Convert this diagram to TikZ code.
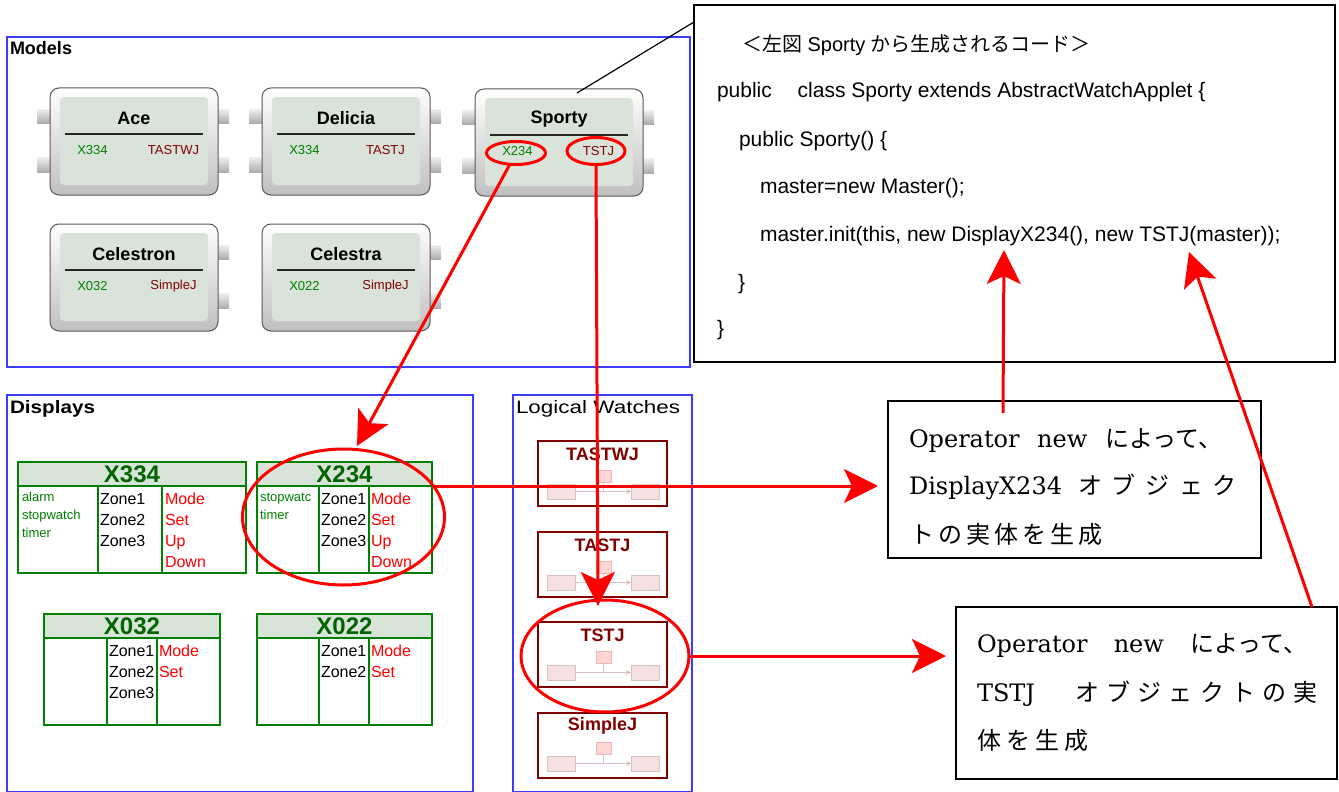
\documentclass[tikz,border=0pt]{standalone}
\usepackage{fontspec}
\usepackage{graphicx}
\setmainfont{Liberation Sans}
\newfontfamily\jp{Noto Sans CJK JP}
\newfontfamily\dserif{DejaVu Serif}
\usetikzlibrary{arrows.meta,shapes.geometric,calc}
\definecolor{mblue}{HTML}{3C3CFF}
\definecolor{dgreen}{HTML}{008000}
\definecolor{tgreen}{HTML}{006400}
\definecolor{dred}{HTML}{800000}
\definecolor{panel}{HTML}{D9E3D9}
\definecolor{hdr}{HTML}{D8E4D8}
\definecolor{pinkf}{HTML}{F5E1E1}
\definecolor{pinkd}{HTML}{DCC0C0}
\definecolor{sqf}{HTML}{FFD6D6}
\definecolor{sqd}{HTML}{F2B5B5}
\definecolor{mred}{HTML}{FF0000}
\newcommand\fsz[1]{\fontsize{#1}{#1}\selectfont}
\newcommand\mcard[7]{%
  \ifnum#7=1
    \path[stub] ({#2-13},{#3+21}) rectangle ({#2+2},{#3+35});
    \path[stub] ({#2-13},{#3+69}) rectangle ({#2+2},{#3+84});
  \fi
  \path[stub] ({#2+166},{#3+21}) rectangle ({#2+179},{#3+35});
  \path[stub] ({#2+166},{#3+69}) rectangle ({#2+179},{#3+84});
  \node[cardouter] (#1) at (#2,#3) {};
  \node[cardinner] (#1p) at ({#2+10},{#3+9}) {};
  \node[cardtitle] (#1t) at ({#2+84},{#3+30}) {#4};
  \draw[line width=1.2pt, black!85] ({#2+15},{#3+46}) -- ({#2+153},{#3+46});
  \node[dlab] (#1d) at ({#2+42.5},{#3+62}) {#5};
  \node[wlab] (#1w) at ({#2+123.5},{#3+62}) {#6};
}
\newcommand\dtable[7]{%
  \node[dhead, minimum width=#4pt] (#1h) at (#2,#3) {};
  \node[dtitle] (#1t) at (#1h.center) {#7};
  \node[dtab, minimum width=#4pt] (#1) at (#2,#3) {};
  \draw[dgreen, line width=2.5pt] (#1h.south west) -- (#1h.south east);
  \draw[dgreen, line width=1.3pt] ({#5},{#3+24}) -- ({#5},{#3+111});
  \draw[dgreen, line width=1.3pt] ({#6},{#3+24}) -- ({#6},{#3+111});
}
\newcommand\lwatch[3]{%
  \node[lwbox] (#1) at (538,#2) {};
  \node[lwtitle] (#1t) at (602.5,{#2+13}) {#3};
  \node[pinkrect] (#1a) at (547,{#2+43}) {};
  \node[pinkrect] (#1b) at (631,{#2+43}) {};
  \node[pinksq] (#1c) at (596,{#2+29}) {};
  \draw[pinkd, line width=1pt, -{Stealth[length=5pt,width=5pt]}] (#1a.east) -- (#1b.west);
  \draw[pinkd, line width=1pt] (#1c.south) -- (#1c.south |- #1a.east);
}
\begin{document}
\begin{tikzpicture}[x=1pt,y=-1pt,
  every node/.style={inner sep=0pt, outer sep=0pt},
  frame/.style={draw=mblue, line width=1.5pt},
  stub/.style={top color=black!6, bottom color=black!32},
  cardouter/.style={draw=black!65, line width=1pt, rounded corners=9pt, top color=white, bottom color=black!25, minimum width=168pt, minimum height=107pt, anchor=north west},
  cardinner/.style={fill=panel, rounded corners=4pt, minimum width=148pt, minimum height=88pt, anchor=north west},
  cardtitle/.style={font=\bfseries\fsz{18}},
  dlab/.style={font=\fsz{13}, text=dgreen},
  wlab/.style={font=\fsz{13}, text=dred},
  dhead/.style={fill=hdr, minimum height=24pt, anchor=north west},
  dtab/.style={draw=dgreen, line width=2.5pt, minimum height=111pt, anchor=north west},
  dtitle/.style={font=\bfseries\fsz{24}, text=tgreen},
  c1txt/.style={font=\fsz{13}, text=dgreen, anchor=base west},
  c2txt/.style={font=\fsz{16}, text=black, anchor=base west},
  c3txt/.style={font=\fsz{16}, text=mred, anchor=base west},
  lwbox/.style={draw=dred, line width=2.5pt, minimum width=129pt, minimum height=65pt, anchor=north west},
  lwtitle/.style={font=\bfseries\fsz{18}, text=dred},
  pinkrect/.style={draw=pinkd, fill=pinkf, line width=0.8pt, minimum width=28pt, minimum height=15pt, anchor=north west},
  pinksq/.style={draw=sqd, fill=sqf, line width=0.8pt, minimum width=15pt, minimum height=12pt, anchor=north west},
  redell/.style={ellipse, draw=mred, line width=3pt},
  redarrow/.style={draw=mred, line width=3pt, -{Stealth[length=34pt,width=34pt,inset=8pt]}},
  codetxt/.style={font=\fsz{21}, anchor=base west},
  callbox/.style={draw=black, line width=1.5pt, anchor=north west},
  calltxt/.style={font=\dserif\fsz{24}, anchor=base west},
  seclabel/.style={anchor=base west}]
\useasboundingbox (0,0) rectangle (1339,792);
\fill[white] (0,0) rectangle (1339,792);

% ---------- Models ----------
\node[frame, minimum width=683pt, minimum height=330pt, anchor=north west] (models) at (7,37) {};
\node[seclabel, font=\bfseries\fsz{18}] (modelsl) at (10,55) {Models};
\mcard{ace}{50}{88}{Ace}{X334}{TASTWJ}{1}
\mcard{delicia}{262}{88}{Delicia}{X334}{TASTJ}{1}
\mcard{sporty}{475}{89}{Sporty}{X234}{TSTJ}{1}
\mcard{celestron}{50}{224}{Celestron}{X032}{SimpleJ}{0}
\mcard{celestra}{262}{224}{Celestra}{X022}{SimpleJ}{0}

% ---------- Displays ----------
\node[frame, minimum width=466pt, minimum height=397pt, anchor=north west] (displays) at (7,395) {};
\node[seclabel, font=\bfseries\fsz{18}] (displaysl) at (10,413) {\resizebox{85pt}{\height}{Displays}};

\dtable{dA}{18}{462}{228}{98}{162}{X334}
\node[c1txt] (dA1) at (22,501) {alarm};
\node[c1txt] (dA2) at (22,519) {stopwatch};
\node[c1txt] (dA3) at (22,537) {timer};
\node[c2txt] (dA4) at (100,504) {Zone1};
\node[c2txt] (dA5) at (100,525) {Zone2};
\node[c2txt] (dA6) at (100,546) {Zone3};
\node[c3txt] (dA7) at (165,504) {Mode};
\node[c3txt] (dA8) at (165,525) {Set};
\node[c3txt] (dA9) at (165,546) {Up};
\node[c3txt] (dA10) at (165,567) {Down};

\dtable{dB}{257}{462}{175}{319}{369}{X234}
\node[c1txt] (dB1) at (260,501) {stopwatc};
\node[c1txt] (dB2) at (260,519) {timer};
\node[c2txt] (dB4) at (321,504) {Zone1};
\node[c2txt] (dB5) at (321,525) {Zone2};
\node[c2txt] (dB6) at (321,546) {Zone3};
\node[c3txt] (dB7) at (371,504) {Mode};
\node[c3txt] (dB8) at (371,525) {Set};
\node[c3txt] (dB9) at (371,546) {Up};
\node[c3txt] (dB10) at (371,567) {Down};

\dtable{dC}{44}{614}{176}{107}{157}{X032}
\node[c2txt] (dC4) at (109,656) {Zone1};
\node[c2txt] (dC5) at (109,677) {Zone2};
\node[c2txt] (dC6) at (109,698) {Zone3};
\node[c3txt] (dC7) at (159,656) {Mode};
\node[c3txt] (dC8) at (159,677) {Set};

\dtable{dD}{257}{614}{175}{319}{369}{X022}
\node[c2txt] (dD4) at (321,656) {Zone1};
\node[c2txt] (dD5) at (321,677) {Zone2};
\node[c3txt] (dD7) at (371,656) {Mode};
\node[c3txt] (dD8) at (371,677) {Set};

% ---------- Logical Watches ----------
\node[frame, minimum width=179pt, minimum height=397pt, anchor=north west] (lwatches) at (513,395) {};
\node[seclabel, font=\fsz{18}] (lwatchesl) at (516,413) {\resizebox{164pt}{\height}{Logical Watches}};
\lwatch{lwA}{441}{TASTWJ}
\lwatch{lwB}{532}{TASTJ}
\lwatch{lwC}{622}{TSTJ}
\lwatch{lwD}{713}{SimpleJ}

% ---------- Code box ----------
\node[draw=black, line width=1.5pt, minimum width=641pt, minimum height=357pt, anchor=north west] (code) at (694,5) {};
\node[codetxt, font=\fsz{20}] (cl1) at (742,52) {{\jp ＜左図} Sporty {\jp から生成されるコード＞}};
\node[codetxt] (cl2) at (717,98) {public\hspace{20pt} class Sporty extends AbstractWatchApplet \{};
\node[codetxt] (cl3) at (739,146) {public Sporty() \{};
\node[codetxt] (cl4) at (760,193) {master=new Master();};
\node[codetxt] (cl5) at (760,241) {master.init(this, new DisplayX234(), new TSTJ(master));};
\node[codetxt] (cl6) at (738,289) {\}};
\node[codetxt] (cl7) at (717,335) {\}};

% ---------- Callouts ----------
\node[callbox, minimum width=373pt, minimum height=157pt] (call1) at (888,401) {};
\node[calltxt] (call1a) at (909,447) {\makebox[313pt][s]{Operator\hfill new\hfill{\jp によって、}}};
\node[calltxt] (call1b) at (909,494) {\makebox[328pt][s]{DisplayX234\hspace{16pt}{\jp オ\hfill ブ\hfill ジ\hfill ェ\hfill ク}}};
\node[calltxt] (call1c) at (910,543) {\makebox[193pt][s]{\jp ト\hfill の\hfill 実\hfill 体\hfill を\hfill 生\hfill 成}};

\node[callbox, minimum width=381pt, minimum height=172pt] (call2) at (956,607) {};
\node[calltxt] (call2a) at (977,652) {\makebox[330pt][s]{Operator\hfill new\hfill{\jp によって、}}};
\node[calltxt] (call2b) at (977,701) {\makebox[341pt][s]{TSTJ\hspace{40pt}{\jp オ\hfill ブ\hfill ジ\hfill ェ\hfill ク\hfill ト\hfill の\hfill 実}}};
\node[calltxt] (call2c) at (977,749) {\makebox[112pt][s]{\jp 体\hfill を\hfill 生\hfill 成}};

% ---------- connectors ----------
\coordinate (sportyTop) at (577,93);
\coordinate (codeHit) at (694,22);
\draw[line width=1.2pt] (sportyTop) -- (codeHit);

\node[redell, minimum width=59pt, minimum height=23pt] (eSX) at (516,153) {};
\node[redell, minimum width=58pt, minimum height=27pt] (eST) at (596,151) {};
\node[redell, minimum width=202pt, minimum height=136pt] (eDX) at (343.5,517) {};
\node[redell, minimum width=168pt, minimum height=112pt] (eLT) at (605,656) {};

\coordinate (tip1) at (357,446);
\coordinate (tip2) at (598,606);
\coordinate (tip5) at (1004,250);
\coordinate (tip6) at (1189,252);
\coordinate (s5) at (1003,413);
\coordinate (s6) at (1312,607);

\draw[redarrow] (eSX) -- (tip1);
\draw[redarrow] (eST.south) -- (tip2);
\draw[redarrow, shorten >=10pt] (dBh.south east) -- (dBh.south east -| call1.west);
\draw[redarrow, shorten >=10pt] (eLT.east) -- (eLT.east -| call2.west);
\draw[redarrow] (s5) -- (tip5);
\draw[redarrow] (s6) -- (tip6);
\end{tikzpicture}
\end{document}
